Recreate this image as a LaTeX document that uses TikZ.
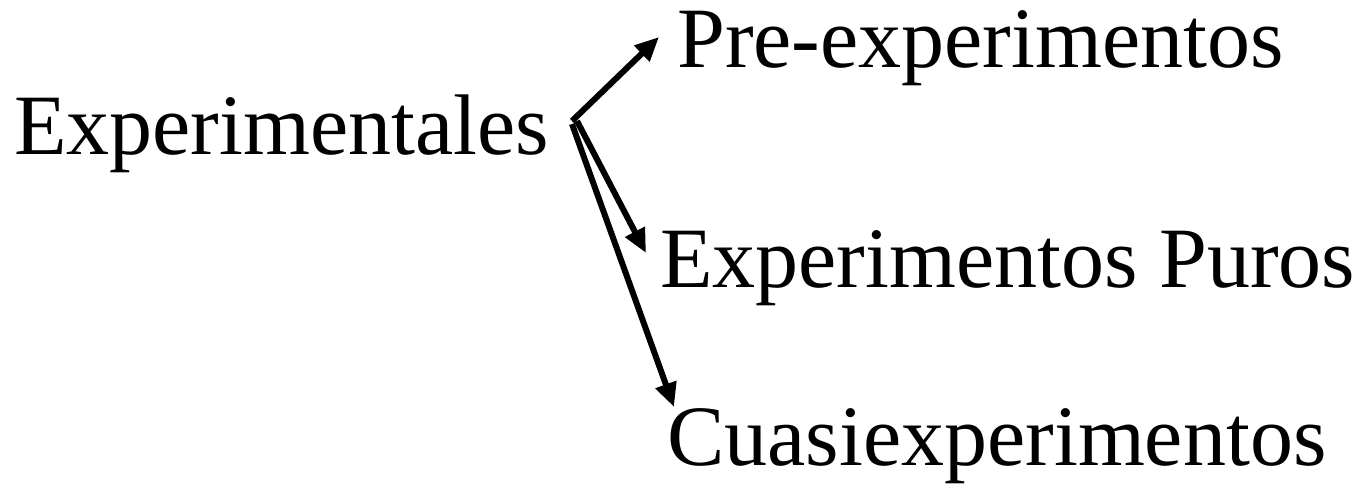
\documentclass[tikz,border=0pt]{standalone}
\usepackage{fontspec}
\setmainfont{Liberation Serif}
\usetikzlibrary{arrows.meta}
\begin{document}
\begin{tikzpicture}[x=1pt,y=-1pt,
  lbl/.style={anchor=base west,inner sep=0pt,font=\fontsize{86}{100}\selectfont},
  arr/.style={line width=6pt,-{Triangle[length=24pt,width=21pt]}}]
\useasboundingbox (0,0) rectangle (1355,488);
\node[lbl] (exp) at (14,154) {Experimentales};
\node[lbl] (pre) at (677,67) {Pre-experimentos};
\node[lbl] (pur) at (660,287) {Experimentos Puros};
\node[lbl] (cua) at (667,465) {Cuasiexperimentos};
\coordinate (s1) at (572,121);
\coordinate (s2) at (577,121);
\coordinate (s3) at (572,124);
\coordinate (e1) at (659,37);
\coordinate (e2) at (646,253);
\coordinate (e3) at (674,407);
\draw[arr] (s1) -- (e1);
\draw[arr] (s2) -- (e2);
\draw[arr] (s3) -- (e3);
\end{tikzpicture}
\end{document}
